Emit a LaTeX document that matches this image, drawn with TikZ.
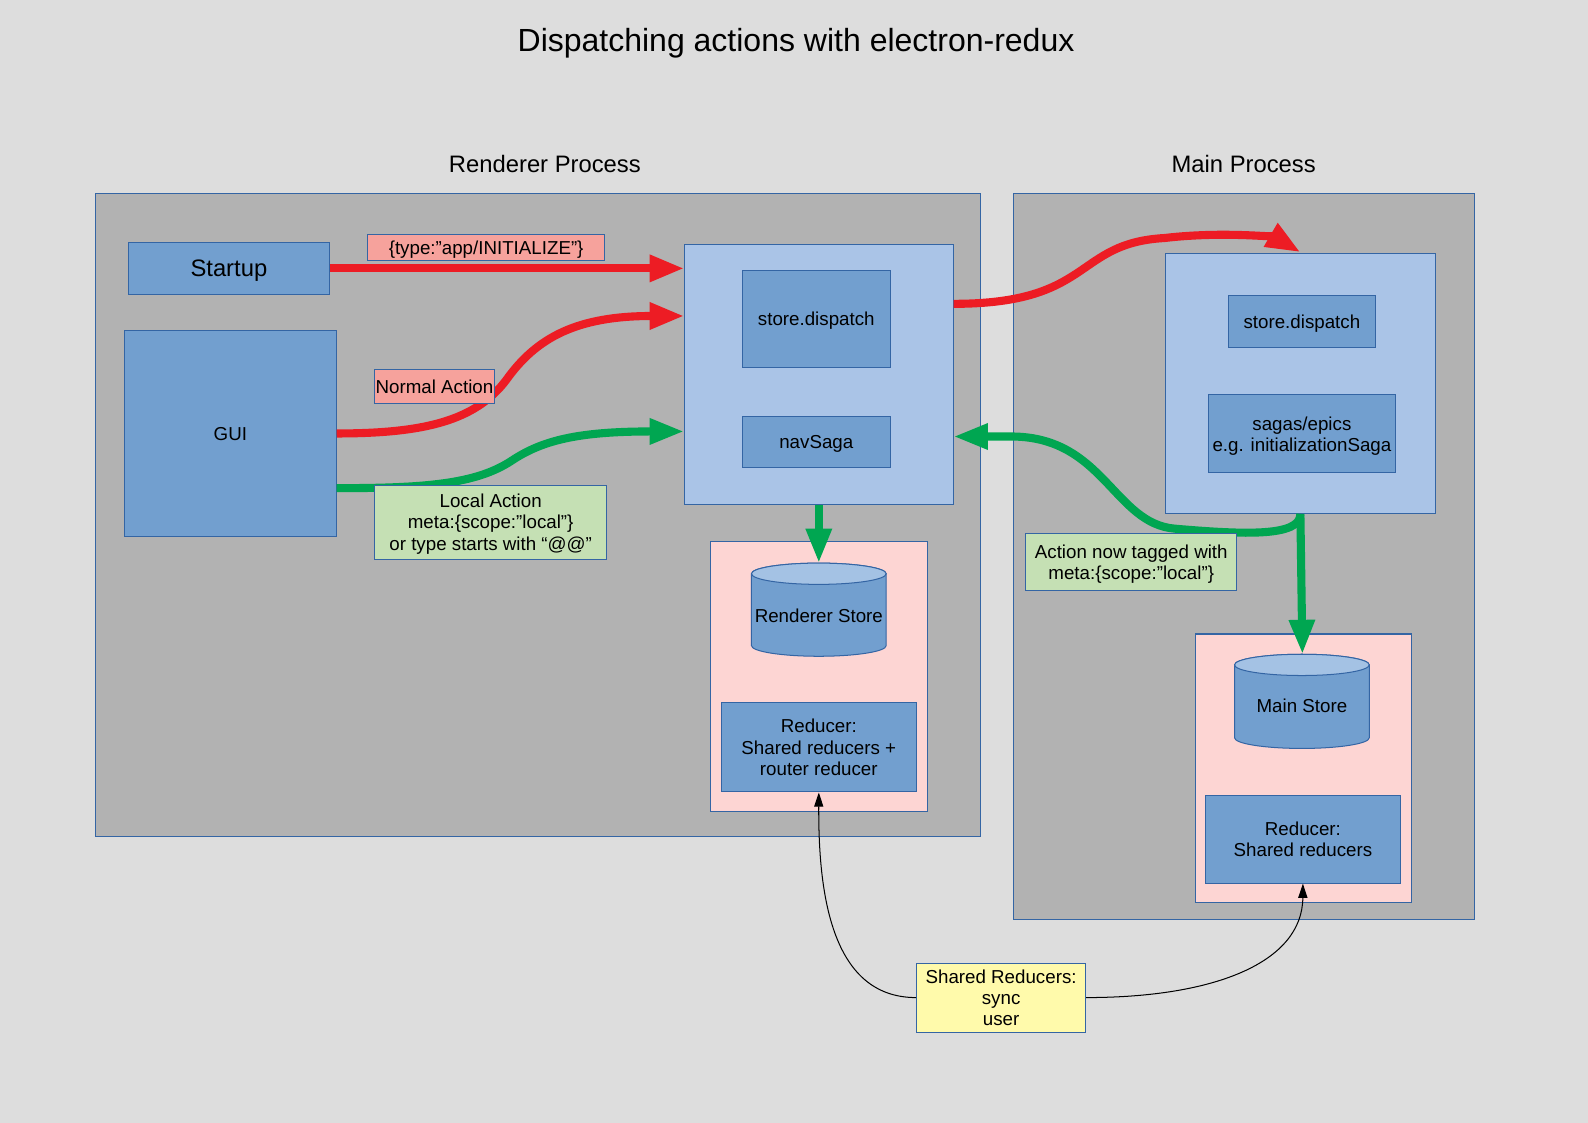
\documentclass[tikz,border=0pt]{standalone}
\usepackage{fontspec}
\setmainfont{Liberation Sans}
\usetikzlibrary{arrows.meta}
\definecolor{bg}{HTML}{DDDDDD}
\definecolor{procfill}{HTML}{B2B2B2}
\definecolor{edge}{HTML}{3465A4}
\definecolor{blueone}{HTML}{729FCF}
\definecolor{lightblue}{HTML}{AAC4E7}
\definecolor{pinkc}{HTML}{FDD5D3}
\definecolor{captop}{HTML}{A4C2E4}
\definecolor{salmon}{HTML}{F6A29C}
\definecolor{lgreen}{HTML}{C5E0B4}
\definecolor{lyellow}{HTML}{FFFAAB}
\definecolor{ared}{HTML}{ED1C24}
\definecolor{agreen}{HTML}{00A651}
\begin{document}
\begin{tikzpicture}[x=1pt,y=-1pt,
  rbox/.style={draw=edge, line width=1pt, inner sep=0pt, align=center, text depth=0pt, font=\fontsize{18.5}{21}\selectfont},
  txt/.style={inner sep=0pt, align=center, text depth=0pt, font=\fontsize{18.5}{21}\selectfont},
  bigred/.style={draw=ared, line width=8pt, -{Triangle[length=34pt,width=25pt]}},
  biggreen/.style={draw=agreen, line width=8pt, -{Triangle[length=34pt,width=24pt]}},
  thinarrow/.style={draw=black, line width=1pt, -{Triangle[length=14pt,width=9pt]}},
  cyl/.style={draw=edge, line width=1pt}
]
\useasboundingbox (0,0) rectangle (1568,1108.85);
\fill[bg] (0,0) rectangle (1568,1108.85);

% titles
\node[inner sep=0pt, text depth=0pt, font=\fontsize{31.6}{36}\selectfont] (title) at (786,39) {Dispatching actions with electron-redux};
\node[inner sep=0pt, text depth=0pt, font=\fontsize{23.5}{28}\selectfont] (rtitle) at (538,162) {Renderer Process};
\node[inner sep=0pt, text depth=0pt, font=\fontsize{23.5}{28}\selectfont] (mtitle) at (1228,162) {Main Process};

% process frames
\node[rbox, fill=procfill, minimum width=874pt, minimum height=635pt] (rproc) at (531,508.5) {};
\node[rbox, fill=procfill, minimum width=455pt, minimum height=717pt] (mproc) at (1228.5,549.5) {};

% renderer side
\node[rbox, fill=blueone, minimum width=198pt, minimum height=52pt, font=\fontsize{23.5}{28}\selectfont] (startup) at (226,265) {Startup};
\node[rbox, fill=blueone, minimum width=209pt, minimum height=204pt] (gui) at (227.5,428) {GUI};
\node[rbox, fill=lightblue, minimum width=265pt, minimum height=257pt] (rcont) at (808.5,369.5) {};
\node[rbox, fill=blueone, minimum width=146pt, minimum height=96pt] (rdisp) at (806,315) {store.dispatch};
\node[rbox, fill=blueone, minimum width=146pt, minimum height=51pt] (navsaga) at (806,436.5) {navSaga};
\node[rbox, fill=pinkc, minimum width=214pt, minimum height=266pt] (rpink) at (809,668) {};
\node[rbox, fill=blueone, minimum width=193pt, minimum height=88pt] (rred) at (808.5,738) {Reducer:\\Shared reducers +\\router reducer};

% renderer store cylinder
\draw[cyl, fill=blueone] (742,566.5) -- (742,637.5) arc[start angle=180, end angle=360, x radius=66.5pt, y radius=10.5pt] -- (875,566.5) arc[start angle=0, end angle=180, x radius=66.5pt, y radius=10.5pt] -- cycle;
\draw[cyl, fill=captop] (808.5,566.5) ellipse[x radius=66.5pt, y radius=10.5pt];
\node[txt] (rstore) at (808.5,608) {Renderer Store};
\coordinate (rstoretop) at (808.5,556);

% main side
\node[rbox, fill=lightblue, minimum width=266pt, minimum height=257pt] (mcont) at (1284,378.5) {};
\node[rbox, fill=blueone, minimum width=145pt, minimum height=51pt] (mdisp) at (1285.5,317.5) {store.dispatch};
\node[rbox, fill=blueone, minimum width=185pt, minimum height=77pt] (sagas) at (1285.5,428.5) {sagas/epics\\e.g. initializationSaga};
\node[rbox, fill=pinkc, minimum width=214pt, minimum height=265pt] (mpink) at (1287,758.5) {};
\node[rbox, fill=blueone, minimum width=193pt, minimum height=87pt] (mred) at (1286.5,828.5) {Reducer:\\Shared reducers};

% main store cylinder
\draw[cyl, fill=blueone] (1219,656.5) -- (1219,728.5) arc[start angle=180, end angle=360, x radius=66.5pt, y radius=10.5pt] -- (1352,656.5) arc[start angle=0, end angle=180, x radius=66.5pt, y radius=10.5pt] -- cycle;
\draw[cyl, fill=captop] (1285.5,656.5) ellipse[x radius=66.5pt, y radius=10.5pt];
\node[txt] (mstore) at (1285.5,697) {Main Store};
\coordinate (mstoretop) at (1286,646);

% shared reducers box
\node[rbox, fill=lyellow, minimum width=167pt, minimum height=68pt] (lshared) at (988.5,985) {Shared Reducers:\\sync\\user};

% thick arrows
\draw[bigred] (startup.east) -- (startup.east -| rcont.west);
\draw[bigred] (gui.east |- 0,428) .. controls (420,428) and (470,415) .. (500,375) .. controls (530,333) and (570,312) .. (rcont.west |- 0,312);
\draw[biggreen] (gui.east |- 0,482) .. controls (420,482) and (470,478) .. (505,455) .. controls (535,435) and (570,426) .. (rcont.west |- 0,426);
\draw[bigred] (rcont.east |- 0,300) .. controls (1080,300) and (1060,240) .. (1150,235) .. controls (1210,228) and (1260,235) .. (1284,249);
\draw[biggreen] (mcont.south) .. controls (1284,530) and (1230,528) .. (1160,522) .. controls (1100,517) and (1090,432) .. (1000,431) -- (rcont.east |- 0,431);
\draw[biggreen] (rcont.south) -- (rstoretop);
\draw[biggreen] (mcont.south) -- (mstoretop);

% thin arrows
\draw[thinarrow] (lshared.west) .. controls (820,985) and (808,880) .. (rred.south);
\draw[thinarrow] (lshared.east) .. controls (1200,985) and (1286,950) .. (mred.south);

% labels
\node[rbox, fill=salmon, minimum width=234pt, minimum height=25pt] (linit) at (480,244.5) {\{type:”app/INITIALIZE”\}};
\node[rbox, fill=salmon, minimum width=118pt, minimum height=33pt] (lnormal) at (429,381.5) {Normal Action};
\node[rbox, fill=lgreen, minimum width=229pt, minimum height=73pt] (llocal) at (484.5,515.5) {Local Action\\meta:\{scope:”local”\}\\or type starts with “@@”};
\node[rbox, fill=lgreen, minimum width=208pt, minimum height=56pt] (ltagged) at (1117,555) {Action now tagged with\\meta:\{scope:”local”\}};
\end{tikzpicture}
\end{document}
